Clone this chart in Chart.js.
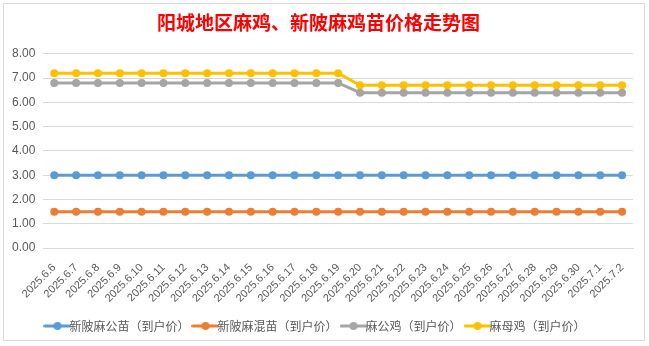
<!DOCTYPE html>
<html><head><meta charset="utf-8">
<script src="https://cdn.jsdelivr.net/npm/chart.js@4"></script>
<style>
html,body{margin:0;padding:0;background:#fff;}
#wrap{position:absolute;left:3px;top:3px;width:642px;height:338px;border:1px solid #d9d9d9;box-sizing:border-box;background:#fff;}
#c{position:absolute;left:0;top:0;}
</style></head><body>
<div id="wrap"></div>
<canvas id="c" width="649" height="346"></canvas>
<script>
const categories = ["2025.6.6","2025.6.7","2025.6.8","2025.6.9","2025.6.10","2025.6.11","2025.6.12","2025.6.13","2025.6.14","2025.6.15","2025.6.16","2025.6.17","2025.6.18","2025.6.19","2025.6.20","2025.6.21","2025.6.22","2025.6.23","2025.6.24","2025.6.25","2025.6.26","2025.6.27","2025.6.28","2025.6.29","2025.6.30","2025.7.1","2025.7.2"];
const gongMiao = [3,3,3,3,3,3,3,3,3,3,3,3,3,3,3,3,3,3,3,3,3,3,3,3,3,3,3];
const hunMiao = [1.5,1.5,1.5,1.5,1.5,1.5,1.5,1.5,1.5,1.5,1.5,1.5,1.5,1.5,1.5,1.5,1.5,1.5,1.5,1.5,1.5,1.5,1.5,1.5,1.5,1.5,1.5];
const gongJi = [6.8,6.8,6.8,6.8,6.8,6.8,6.8,6.8,6.8,6.8,6.8,6.8,6.8,6.8,6.4,6.4,6.4,6.4,6.4,6.4,6.4,6.4,6.4,6.4,6.4,6.4,6.4];
const muJi = [7.2,7.2,7.2,7.2,7.2,7.2,7.2,7.2,7.2,7.2,7.2,7.2,7.2,7.2,6.7,6.7,6.7,6.7,6.7,6.7,6.7,6.7,6.7,6.7,6.7,6.7,6.7];
const seriesNames = ["新陂麻公苗（到户价）","新陂麻混苗（到户价）","麻公鸡（到户价）","麻母鸡（到户价）"];
const titleText = "阳城地区麻鸡、新陂麻鸡苗价格走势图";

const colors = ["#5b9bd5","#ed7d31","#a5a5a5","#ffc000"];
function marker(col){
  const cv=document.createElement('canvas');cv.width=28;cv.height=10;
  const g=cv.getContext('2d');
  g.strokeStyle=col;g.lineWidth=3;g.lineCap='round';
  g.beginPath();g.moveTo(1.5,5);g.lineTo(26.5,5);g.stroke();
  g.fillStyle=col;g.beginPath();g.arc(14,5,4,0,Math.PI*2);g.fill();
  return cv;
}
const markers = colors.map(marker);
const data = [gongMiao,hunMiao,gongJi,muJi];
new Chart(document.getElementById('c'),{
  type:'line',
  data:{labels:categories,datasets:data.map((d,i)=>({
    label:seriesNames[i],data:d,borderColor:colors[i],backgroundColor:colors[i],
    borderWidth:3,pointRadius:4,pointHoverRadius:4,pointBackgroundColor:colors[i],pointBorderWidth:0,tension:0
  }))},
  options:{
    responsive:false,animation:false,
    layout:{padding:{left:4,right:16,top:4,bottom:4}},
    plugins:{
      title:{display:true,text:titleText,color:'#ff0000',font:{size:19,weight:'bold',family:"'Noto Sans CJK SC', serif"},padding:{top:7,bottom:20}},
      legend:{position:'bottom',labels:{usePointStyle:true,boxWidth:28,color:'#595959',font:{size:12,family:"'Noto Sans CJK SC'"},padding:10,
        generateLabels:(chart)=>chart.data.datasets.map((ds,i)=>({text:ds.label,pointStyle:markers[i],fillStyle:colors[i],strokeStyle:colors[i],lineWidth:0,datasetIndex:i,hidden:false,fontColor:'#595959'}))}},
      tooltip:{enabled:false}
    },
    scales:{
      x:{offset:true,grid:{display:false},border:{color:'#d9d9d9'},
        ticks:{minRotation:45,maxRotation:45,autoSkip:false,color:'#595959',font:{size:11,family:"'Liberation Sans', Arial"},padding:5}},
      y:{min:0,max:8,grid:{color:'#d9d9d9',drawTicks:false},border:{display:false},
        ticks:{stepSize:1,color:'#595959',padding:8,font:{size:12,family:"'Liberation Sans', Arial"},callback:v=>v.toFixed(2)}}
    }
  }
});
</script></body></html>
